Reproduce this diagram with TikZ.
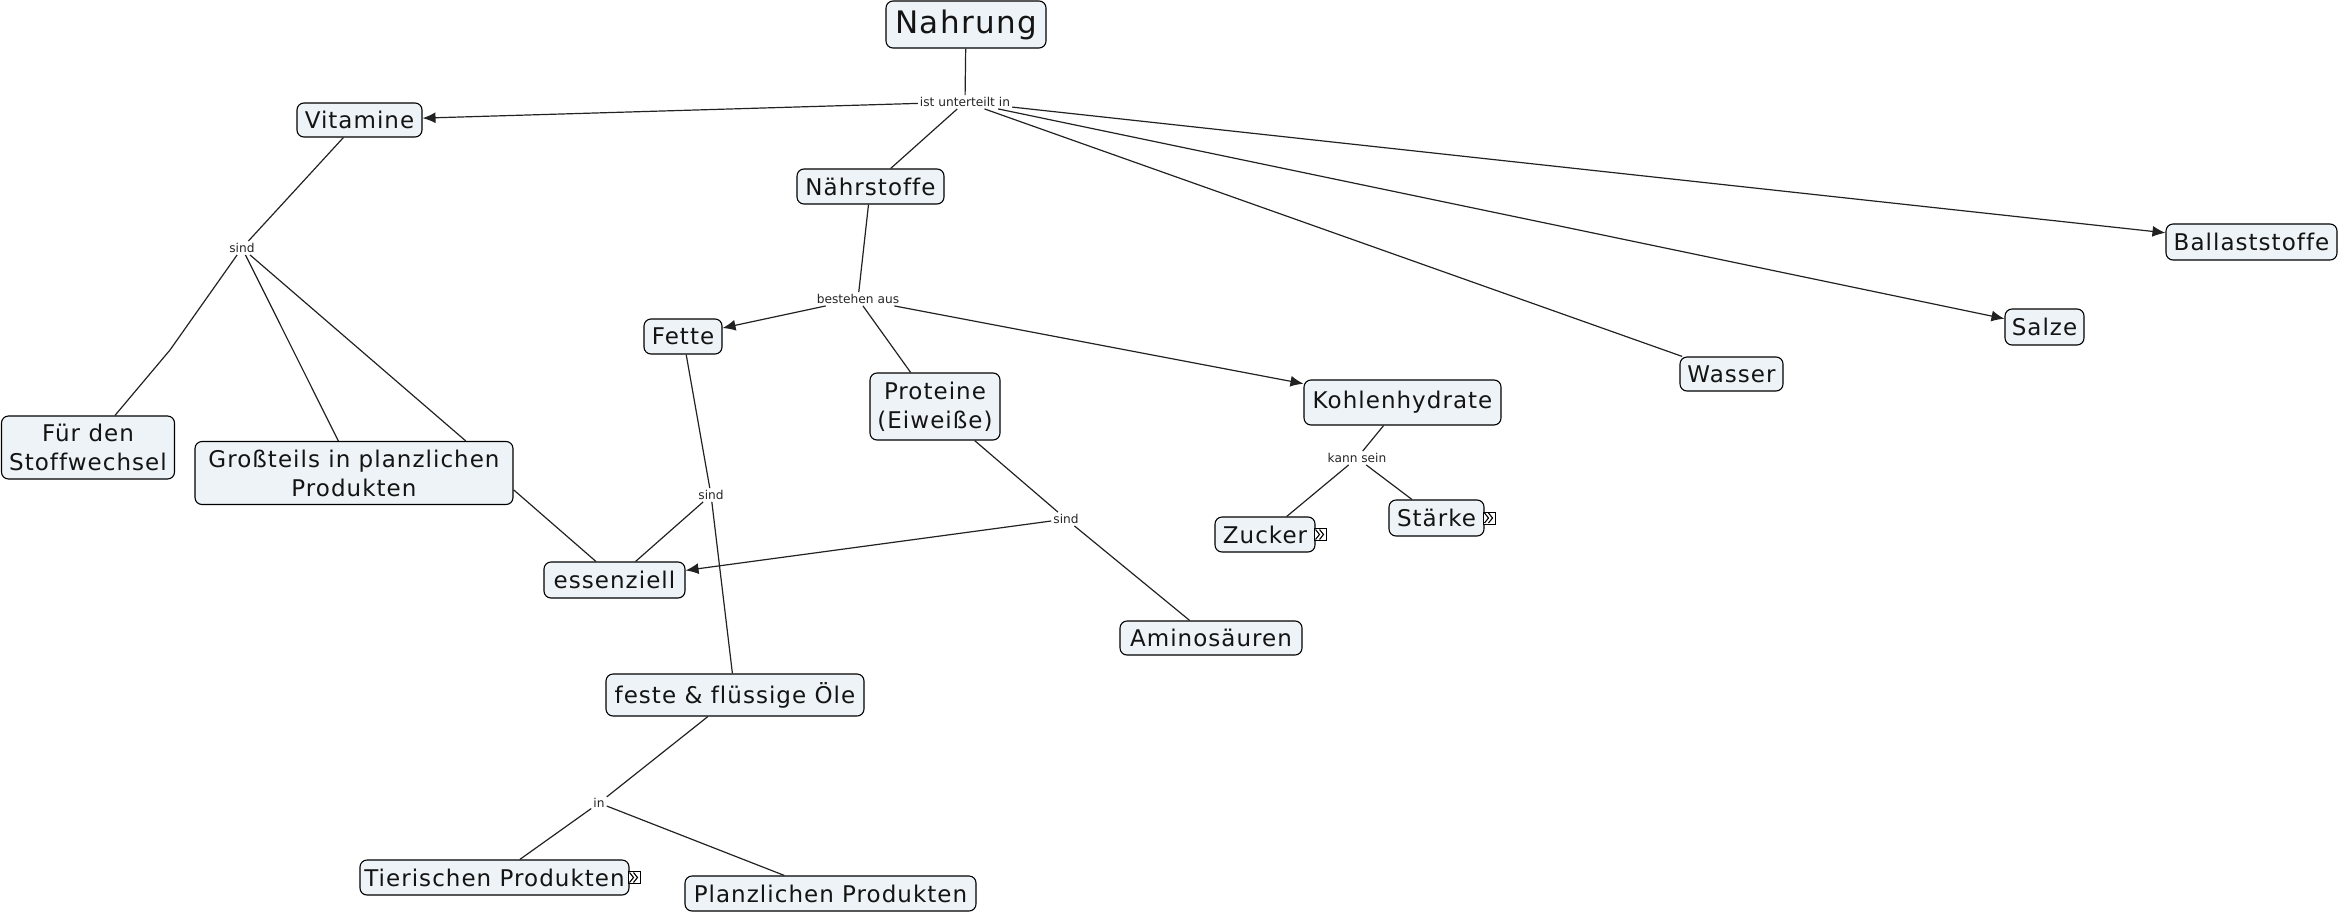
\documentclass[tikz,border=0pt]{standalone}
\usepackage{fontspec}
\setmainfont[LetterSpace=4.5,Ligatures=NoCommon]{DejaVu Sans}
\newfontfamily\linkfont{DejaVu Sans}
\usetikzlibrary{arrows.meta}
\definecolor{boxfill}{HTML}{EDF3F6}
\definecolor{linecol}{HTML}{222222}
\tikzset{
  x=1pt,y=-1pt,
  concept/.style={draw=black,line width=1.1pt,fill=boxfill,rounded corners=7pt,inner sep=0pt,align=center,font=\fontsize{23}{29}\selectfont,text=black!92},
  big/.style={font=\fontsize{31}{38}\selectfont},
  linkword/.style={fill=white,inner xsep=2pt,inner ysep=2pt,font=\linkfont\fontsize{12.2}{15}\selectfont,text=black!85},
  conn/.style={draw=linecol,line width=1.2pt},
  arr/.style={conn,-{Latex[length=13pt,width=11pt]}},
  expandicon/.style={draw=black,line width=.9pt,fill=white,minimum size=12pt,inner sep=0pt,xshift=-2pt,
    path picture={\draw[line width=1.1pt] ([shift={(-4.5pt,-5pt)}]path picture bounding box.center) -- ++(4pt,5pt) -- ++(-4pt,5pt) ([shift={(-.5pt,-5pt)}]path picture bounding box.center) -- ++(4pt,5pt) -- ++(-4pt,5pt);}},
}
\begin{document}
\begin{tikzpicture}
\useasboundingbox (0,0) rectangle (2339,913);
% link words
\node[linkword] (l1) at (965,102) {ist unterteilt in};
\node[linkword] (l2) at (242,248) {sind};
\node[linkword] (l3) at (858,299) {bestehen aus};
\node[linkword] (l4) at (1357,458) {kann sein};
\node[linkword] (l5) at (711,495) {sind};
\node[linkword] (l6) at (1066,519) {sind};
\node[linkword] (l7) at (599,803) {in};
% concepts
\node[concept,big,minimum width=160pt,minimum height=47pt] (nahrung) at (966,24.5) {Nahrung};
\node[concept,minimum width=125pt,minimum height=34pt] (vitamine) at (359.5,120) {Vitamine};
\node[concept,minimum width=147pt,minimum height=35pt] (naehr) at (870.5,186.5) {Nährstoffe};
\node[concept,minimum width=171pt,minimum height=36pt] (ball) at (2251.5,242) {Ballaststoffe};
\node[concept,minimum width=79pt,minimum height=36pt] (salze) at (2044.5,327) {Salze};
\node[concept,minimum width=103pt,minimum height=34pt] (wasser) at (1731.5,374) {Wasser};
\node[concept,minimum width=197pt,minimum height=45pt] (kohlen) at (1402.5,402.5) {Kohlenhydrate};
\node[concept,minimum width=78pt,minimum height=35pt] (fette) at (683,336.5) {Fette};
\node[concept,minimum width=130pt,minimum height=67pt] (prot) at (935,406.5) {Proteine\\(Eiweiße)};
\node[concept,minimum width=141pt,minimum height=36pt] (ess) at (614.5,580) {essenziell};
\node[concept,minimum width=182pt,minimum height=34pt] (amino) at (1211,638) {Aminosäuren};
\node[concept,minimum width=258pt,minimum height=42pt] (feste) at (735,695) {feste \& flüssige Öle};
\node[concept,minimum width=291pt,minimum height=35pt] (planz) at (830.5,893.5) {Planzlichen Produkten};
\node[concept,minimum width=269pt,minimum height=35pt] (tier) at (494.5,877.5) {Tierischen Produkten};
\node[concept,minimum width=100pt,minimum height=35pt] (zucker) at (1265,534.5) {Zucker};
\node[concept,minimum width=95pt,minimum height=36pt] (staerke) at (1436.5,518) {Stärke};
\node[concept,minimum width=173pt,minimum height=63pt] (fuer) at (88,447.5) {Für den\\Stoffwechsel};
\node[concept,minimum width=318pt,minimum height=63pt] (gross) at (354,473) {Großteils in planzlichen\\Produkten};
% expand icons
\node[expandicon,anchor=west] (ez) at (zucker.east) {};
\node[expandicon,anchor=west] (es) at (staerke.east) {};
\node[expandicon,anchor=west] (et) at (tier.east) {};
% helper
\coordinate (bend) at (170,350);
% connectors
\draw[conn] (nahrung) -- (l1);
\draw[arr] (l1) -- (vitamine);
\draw[conn] (l1) -- (naehr);
\draw[arr] (l1) -- (ball);
\draw[arr] (l1) -- (salze);
\draw[conn] (l1) -- (wasser);
\draw[conn] (vitamine) -- (l2);
\draw[conn] (l2) -- (bend) -- (fuer);
\draw[conn] (l2) -- (gross.116.5);
\draw[conn] (l2) -- (gross.16.8);
\draw[conn] (gross.-6.5) -- (ess.135);
\draw[conn] (naehr) -- (l3);
\draw[arr] (l3) -- (fette);
\draw[conn] (l3) -- (prot);
\draw[arr] (l3) -- (kohlen);
\draw[conn] (kohlen) -- (l4);
\draw[conn] (l4) -- (zucker);
\draw[conn] (l4) -- (staerke);
\draw[conn] (fette) -- (l5);
\draw[conn] (l5) -- (feste);
\draw[conn] (l5) -- (ess);
\draw[conn] (prot) -- (l6);
\draw[arr] (l6) -- (ess);
\draw[conn] (l6) -- (amino);
\draw[conn] (feste) -- (l7);
\draw[conn] (l7) -- (tier);
\draw[conn] (l7) -- (planz);
\end{tikzpicture}
\end{document}
